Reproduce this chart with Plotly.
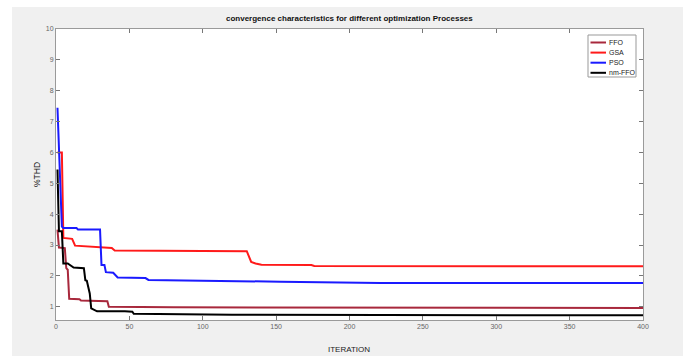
import plotly.graph_objects as go

# ---- data ----
series_names = ["FFO", "GSA", "PSO", "nm-FFO"]
series_colors = ["#a8283c", "#ff1a1a", "#1a1aff", "#000000"]

it_ffo = [1, 2, 6, 7, 8, 9, 16, 17, 35, 36, 80, 200, 400]
ffo = [3.5, 2.92, 2.9, 2.25, 2.2, 1.26, 1.24, 1.2, 1.18, 1.0, 0.98, 0.97, 0.96]

it_gsa = [1, 4, 5, 11, 13, 25, 38, 40, 130, 133, 136, 140, 174, 176, 400]
gsa = [6.0, 6.0, 3.23, 3.2, 2.98, 2.94, 2.9, 2.82, 2.8, 2.45, 2.4, 2.36, 2.35, 2.32, 2.31]

it_pso = [1, 4, 5, 14, 15, 30, 31, 33, 34, 39, 42, 61, 63, 100, 153, 221, 400]
pso = [7.45, 3.6, 3.55, 3.55, 3.5, 3.5, 2.35, 2.35, 2.12, 2.1, 1.95, 1.93, 1.87, 1.84, 1.81, 1.77, 1.77]

it_nm = [1, 2, 4, 5, 8, 11, 12, 19, 20, 21, 23, 24, 27, 28, 47, 52, 53, 120, 400]
nm = [5.45, 3.45, 3.45, 2.4, 2.4, 2.3, 2.27, 2.25, 1.86, 1.84, 1.43, 0.95, 0.89, 0.85, 0.85, 0.84, 0.77, 0.74, 0.72]

x_ticks = [0, 50, 100, 150, 200, 250, 300, 350, 400]
y_ticks = [1, 2, 3, 4, 5, 6, 7, 8, 9, 10]

title_text = "convergence characteristics for different optimization Processes"
x_title = "ITERATION"
y_title = "%THD"

# ---- layout geometry ----
W, H = 688, 356
L, R, T, B = 56, 45, 29, 36
PW, PH = W - L - R, H - T - B

def px(xp):
    return (xp - L) / PW

def py(yp):
    return (H - B - yp) / PH

FONT = "Liberation Sans, Arial, sans-serif"

fig = go.Figure()
for xs, ys, name, col in zip([it_ffo, it_gsa, it_pso, it_nm], [ffo, gsa, pso, nm],
                             series_names, series_colors):
    fig.add_trace(go.Scatter(x=xs, y=ys, mode="lines", name=name,
                             line=dict(color=col, width=2), showlegend=False))

shapes = []
# white border strips around the grey figure background
for x0, x1, y0, y1 in [(0, 12, 0, H), (0, W, 0, 7), (683, W, 0, H)]:
    shapes.append(dict(type="rect", xref="paper", yref="paper",
                       x0=px(x0), x1=px(x1), y0=py(y1), y1=py(y0),
                       fillcolor="white", line=dict(width=0), layer="below"))

# manual legend
lx0, lx1, ly0, ly1 = 588, 636, 35, 77
shapes.append(dict(type="rect", xref="paper", yref="paper",
                   x0=px(lx0), x1=px(lx1), y0=py(ly1), y1=py(ly0),
                   fillcolor="white", line=dict(color="#999999", width=1)))
annotations = []
for i, (name, col) in enumerate(zip(series_names, series_colors)):
    yy = 42.5 + i * 10.1
    shapes.append(dict(type="line", xref="paper", yref="paper",
                       x0=px(590.5), x1=px(606), y0=py(yy), y1=py(yy),
                       line=dict(color=col, width=2)))
    annotations.append(dict(text=name, xref="paper", yref="paper",
                            x=px(607), y=py(yy), xanchor="left", yanchor="middle",
                            showarrow=False, font=dict(size=7, color="#222", family=FONT)))

annotations.append(dict(text="<b>" + title_text + "</b>", xref="paper", yref="paper",
                        x=px(349), y=py(19), xanchor="center", yanchor="middle",
                        showarrow=False, font=dict(size=8, color="#111", family=FONT)))
annotations.append(dict(text=x_title, xref="paper", yref="paper",
                        x=px(349), y=py(349), xanchor="center", yanchor="middle",
                        showarrow=False, font=dict(size=8, color="#222", family=FONT)))
annotations.append(dict(text=y_title, xref="paper", yref="paper",
                        x=px(37), y=py(175), xanchor="center", yanchor="middle",
                        textangle=-90, showarrow=False,
                        font=dict(size=8.5, color="#222", family=FONT)))

axis_common = dict(showgrid=False, zeroline=False, showline=True, linecolor="#9a9a9a",
                   linewidth=1, mirror="ticks", ticks="inside", ticklen=4,
                   tickcolor="#777777", tickfont=dict(size=7, color="#666", family=FONT))

fig.update_layout(
    width=W, height=H,
    margin=dict(l=L, r=R, t=T, b=B, pad=0),
    paper_bgcolor="#f0f0f0", plot_bgcolor="white",
    xaxis=dict(range=[0, 400], tickvals=x_ticks, ticktext=[str(v) for v in x_ticks],
               **axis_common),
    yaxis=dict(range=[0.57, 10], tickvals=y_ticks, ticktext=[str(v) for v in y_ticks],
               **axis_common),
    shapes=shapes, annotations=annotations, showlegend=False,
)

fig.write_html("out.html", config={"displayModeBar": False},
               post_script="document.body.style.margin='0';document.body.style.overflow='hidden';")
